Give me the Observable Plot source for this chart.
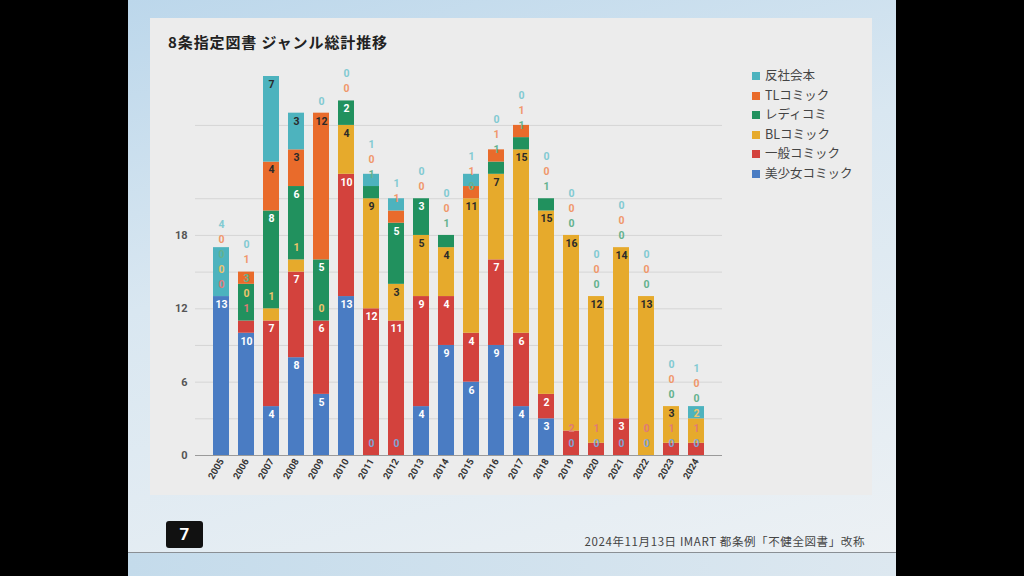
<!DOCTYPE html>
<html><head><meta charset="utf-8">
<script src="https://cdn.jsdelivr.net/npm/d3@7"></script>
<script src="https://cdn.jsdelivr.net/npm/@observablehq/plot@0.6"></script>
<style>
body{margin:0;background:#000;width:1024px;height:576px;overflow:hidden;font-family:"Noto Sans CJK JP",Roboto,sans-serif;}
#slide{position:absolute;left:128px;top:0;width:768px;height:576px;background:linear-gradient(165deg,#bcd7eb 0%,#d9e7f1 40%,#edf1f4 100%);overflow:hidden;}
#card{position:absolute;left:22px;top:18px;width:722px;height:477px;background:#ececec;}
#title{position:absolute;left:18px;top:13px;font-size:15px;font-weight:bold;color:#222;letter-spacing:0.9px;}
#chart{position:absolute;left:0;top:0;}
#legend{position:absolute;left:602px;top:47px;}
.li{position:relative;height:19.5px;font-size:12.5px;color:#444;line-height:19.5px;white-space:nowrap;}
.sw{display:inline-block;width:8px;height:8px;margin-right:5px;vertical-align:0px;}
#pg{position:absolute;left:38px;top:521px;width:37px;height:27px;background:#111;border-radius:3px;color:#fff;font:bold 17px Roboto,sans-serif;text-align:center;line-height:27px;}
#foot{position:absolute;right:31px;top:533px;font-size:11.5px;color:#444;white-space:nowrap;letter-spacing:0.6px;}
#line{position:absolute;left:0;top:552px;width:768px;height:1px;background:#8a8f94;}
#bottom{position:absolute;left:0;top:553px;width:768px;height:23px;background:linear-gradient(90deg,#c4dbeb,#dde8f0);}
</style></head>
<body>
<div id="slide">
  <div id="card">
    <div id="chart"></div>
    <div id="title">8条指定図書 ジャンル総計推移</div>
    <div id="legend"></div>
  </div>
  <div id="pg">7</div>
  <div id="foot">2024年11月13日 IMART 都条例「不健全図書」改称</div>
  <div id="line"></div>
  <div id="bottom"></div>
</div>
<script>
const years = ["2005","2006","2007","2008","2009","2010","2011","2012","2013","2014","2015","2016","2017","2018","2019","2020","2021","2022","2023","2024"];
const bishoujo = [13,10,4,8,5,13,0,0,4,9,6,9,4,3,0,0,0,0,0,0];
const ippan    = [0,1,7,7,6,10,12,11,9,4,4,7,6,2,2,1,3,0,1,1];
const blComic  = [0,0,1,1,0,4,9,3,5,4,11,7,15,15,16,12,14,13,3,2];
const ladies   = [0,3,8,6,5,2,1,5,3,1,0,1,1,1,0,0,0,0,0,0];
const tlComic  = [0,1,4,3,12,0,0,1,0,0,1,1,1,0,0,0,0,0,0,0];
const hansha   = [4,0,7,3,0,0,1,1,0,0,1,0,0,0,0,0,0,0,0,1];
const seriesNames = ["美少女コミック","一般コミック","BLコミック","レディコミ","TLコミック","反社会本"];
const seriesValues = [bishoujo, ippan, blComic, ladies, tlComic, hansha];
const seriesColors = ["#4a7cc3","#d3423d","#e6aa2c","#21915e","#e96b2b","#4db3be"];
const insideText = ["#ffffff","#ffffff","#2a2a2a","#ffffff","#2a2a2a","#2a2a2a"];
const yTicks = [0,6,12,18];
const gridVals = [3,6,9,12,15,18,21,27];

const W=722, H=477, mT=58, mB=40, mL=45, mR=150, yMax=31;
const ppu=(H-mT-mB)/yMax;

const barsBySeries = seriesNames.map(()=>[]);
const labels=[];
years.forEach((yr,i)=>{
  let cum=0, prev=null;
  seriesNames.forEach((name,k)=>{
    const v=seriesValues[k][i];
    const y1=cum, y2=cum+v; cum=y2;
    if(v>0) barsBySeries[k].push({year:yr,y1,y2});
    const fits = v>=2;
    let pos = fits ? y2-8/ppu : y2+12/ppu;
    if(prev!==null) pos=Math.max(pos, prev+15/ppu);
    prev=pos;
    const inside = fits && pos <= y2-5/ppu && pos >= y1+4/ppu;
    const fill = inside ? insideText[k] : d3.interpolateRgb(seriesColors[k],"#ffffff")(0.3);
    labels.push({year:yr,y:pos,text:String(v),fill});
  });
});
const fills=[...new Set(labels.map(d=>d.fill))];

const plot = Plot.plot({
  width:W, height:H, marginLeft:mL, marginRight:mR, marginTop:mT, marginBottom:mB,
  x:{domain:years, padding:0.34, label:null},
  y:{domain:[0,yMax], label:null},
  style:{background:"transparent", fontFamily:"Roboto, sans-serif"},
  marks:[
    Plot.ruleY(gridVals,{stroke:"#d5d5d5", strokeWidth:1}),
    Plot.axisY({ticks:yTicks, tickSize:0, tickPadding:8, fontSize:11, fontWeight:"bold", fill:"#555", label:null}),
    ...barsBySeries.map((b,k)=>Plot.barY(b,{x:"year", y1:"y1", y2:"y2", fill:seriesColors[k]})),
    Plot.ruleY([0],{stroke:"#9a9a9a"}),
    Plot.axisX({tickRotate:-60, tickSize:0, tickPadding:4, fontSize:9.5, fontWeight:"bold", fill:"#333", label:null}),
    ...fills.map(f=>Plot.text(labels.filter(d=>d.fill===f),{x:"year", y:"y", text:"text", fill:f, fontSize:10.5, fontWeight:"bold"}))
  ]
});
document.getElementById("chart").appendChild(plot);

const legend=document.getElementById("legend");
for(let k=seriesNames.length-1;k>=0;k--){
  const row=document.createElement("div"); row.className="li";
  row.innerHTML=`<span class="sw" style="background:${seriesColors[k]}"></span>${seriesNames[k]}`;
  legend.appendChild(row);
}
</script>
</body></html>
